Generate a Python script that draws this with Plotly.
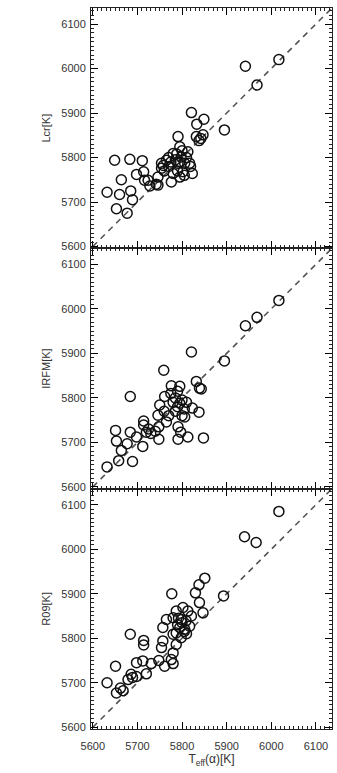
import plotly.graph_objects as go

# Panel 1: Teff(alpha) vs Lcr
x1 = [5632,5653,5677,5660,5685,5689,5664,5649,5683,5711,5698,5714,5716,5724,5728,5746,5742,5746,5754,5754,5765,5758,5760,5770,5776,5780,5780,5791,5795,5798,5802,5806,5813,5817,5819,5823,5810,5790,5785,5800,5795,5805,5791,5821,5849,5833,5832,5847,5838,5842,5895,5942,5968,6017,5770,5775,5788,5795]
y1 = [5722,5685,5675,5717,5725,5705,5750,5794,5796,5793,5762,5768,5749,5749,5736,5738,5740,5756,5776,5787,5794,5782,5770,5780,5745,5764,5809,5787,5824,5801,5768,5787,5813,5787,5780,5764,5800,5770,5795,5815,5756,5760,5847,5901,5886,5875,5847,5851,5838,5843,5862,6005,5963,6020,5800,5790,5808,5790]

# Panel 2: Teff(alpha) vs IRFM
x2 = [5632,5658,5664,5689,5653,5651,5677,5684,5698,5712,5720,5714,5714,5730,5748,5748,5746,5750,5765,5761,5759,5684,5776,5795,5780,5785,5790,5795,5800,5805,5785,5800,5806,5791,5797,5791,5813,5848,5823,5838,5832,5839,5843,5821,5895,5942,5968,6017,5775,5770,5760,5810,5790,5740,5725]
y2 = [5645,5659,5682,5657,5703,5727,5697,5723,5712,5691,5723,5739,5748,5720,5707,5735,5761,5784,5746,5803,5862,5803,5827,5826,5790,5800,5780,5788,5795,5775,5770,5760,5757,5735,5723,5707,5712,5710,5777,5768,5837,5822,5820,5903,5883,5962,5981,6019,5810,5760,5770,5790,5815,5725,5730]

# Panel 3: Teff(alpha) vs R09
x3 = [5632,5651,5653,5662,5668,5679,5686,5689,5698,5684,5698,5712,5714,5714,5720,5731,5748,5754,5757,5761,5776,5780,5780,5787,5757,5765,5780,5787,5798,5806,5795,5817,5780,5798,5809,5821,5787,5813,5802,5777,5830,5838,5851,5839,5847,5893,5940,5966,6017,5790,5800,5805,5792,5810]
y3 = [5700,5737,5677,5688,5682,5707,5719,5712,5714,5809,5745,5749,5795,5785,5720,5743,5750,5779,5794,5737,5752,5743,5767,5786,5824,5842,5809,5812,5801,5820,5824,5827,5846,5842,5839,5850,5861,5861,5869,5900,5902,5920,5935,5880,5857,5895,6028,6015,6085,5830,5835,5815,5845,5810]

tick_vals = [5600, 5700, 5800, 5900, 6000, 6100]
y_titles = ["Lcr[K]", "IRFM[K]", "R09[K]"]
x_title = "T<sub>eff</sub>(α)[K]"
one_to_one = [5600, 6135]

rng = [5596, 6136]
font_family = "Liberation Sans, Arial, sans-serif"

fig = go.Figure()
series = [(x1, y1), (x2, y2), (x3, y3)]
domains = [[0.6667, 1.0], [0.3333, 0.6667], [0.0, 0.3333]]

for i, (xs, ys) in enumerate(series):
    n = "" if i == 0 else str(i + 1)
    fig.add_trace(go.Scatter(x=one_to_one, y=one_to_one, mode="lines",
                             line=dict(color="#555555", width=1.6, dash="6px,5px"),
                             xaxis="x" + n, yaxis="y" + n, showlegend=False, hoverinfo="skip"))
    fig.add_trace(go.Scatter(x=xs, y=ys, mode="markers",
                             marker=dict(symbol="circle-open", size=10, color="#111111",
                                         line=dict(width=1.5, color="#111111")),
                             xaxis="x" + n, yaxis="y" + n, showlegend=False))

common = dict(range=rng, tickmode="linear", tick0=tick_vals[0], dtick=tick_vals[1] - tick_vals[0],
              ticks="inside", ticklen=7, tickwidth=1.2, tickcolor="black", showline=True, linecolor="#222",
              linewidth=1, mirror="allticks", showgrid=False, zeroline=False,
              minor=dict(dtick=10, ticklen=3, tickwidth=1, tickcolor="#222", ticks="inside"),
              tickfont=dict(size=11, color="#333", family=font_family))

layout = dict(width=337, height=773, margin=dict(l=91, r=5, t=8, b=44),
              paper_bgcolor="white", plot_bgcolor="white",
              font=dict(family=font_family, color="#333"))
for i in range(3):
    n = "" if i == 0 else str(i + 1)
    xa = dict(common)
    xa.update(domain=[0, 1], anchor="y" + n, showticklabels=(i == 2))
    if i == 2:
        xa.update(ticklabelstandoff=7,
                  title=dict(text=x_title, font=dict(size=12, color="#333"), standoff=3))
    ya = dict(common)
    ya.update(domain=domains[i], anchor="x" + n, ticklabelstandoff=2,
              title=dict(text=y_titles[i], font=dict(size=11, color="#333"), standoff=8))
    layout["xaxis" + n] = xa
    layout["yaxis" + n] = ya

fig.update_layout(**layout)
fig.write_html("out.html")
